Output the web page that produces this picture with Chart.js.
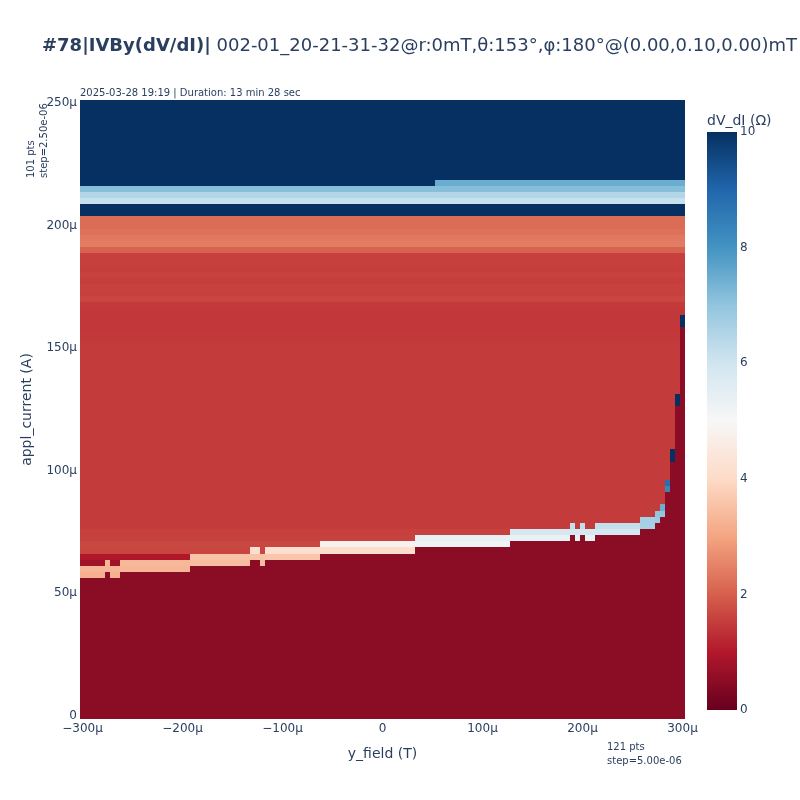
<!DOCTYPE html>
<html>
<head>
<meta charset="utf-8">
<script src="https://cdn.jsdelivr.net/npm/chart.js@4.4.1/dist/chart.umd.min.js"></script>
<style>
  html, body { margin: 0; padding: 0; background: #fff; }
  #wrap { position: relative; width: 800px; height: 800px; font-family: "DejaVu Sans", Verdana, sans-serif; color: #2a3f5f; }
  #main { position: absolute; left: 0; top: 0; }
  #cbar { position: absolute; left: 700px; top: 100px; }
  .txt { position: absolute; white-space: nowrap; }
  #title { left: 42px; top: 33px; font-size: 18px; line-height: 24px; }
  #stamp { left: 80px; top: 86px; font-size: 10px; line-height: 14px; }
  #xnote { left: 607px; top: 740px; font-size: 10px; line-height: 14px; }
  #ynote { left: 24px; top: 178px; font-size: 10px; line-height: 13px; transform-origin: 0 0; transform: rotate(-90deg); }
  #cbtitle { left: 707px; top: 110px; font-size: 14px; line-height: 20px; }
</style>
</head>
<body>
<div id="wrap">
  <canvas id="main" width="800" height="800"></canvas>
  <canvas id="cbar" width="100" height="640"></canvas>
  <div class="txt" id="title"><b>#78|IVBy(dV/dI)|</b> 002-01_20-21-31-32@r:0mT,θ:153°,φ:180°@(0.00,0.10,0.00)mT</div>
  <div class="txt" id="stamp">2025-03-28 19:19 | Duration: 13 min 28 sec</div>
  <div class="txt" id="xnote">121 pts<br>step=5.00e-06</div>
  <div class="txt" id="ynote">101 pts<br>step=2.50e-06</div>
  <div class="txt" id="cbtitle">dV_dI (Ω)</div>
</div>
<script>
// y_field (µT), one entry per heatmap column
const xValues = [
  -300, -295, -290, -285, -280, -275, -270, -265, -260, -255,
  -250, -245, -240, -235, -230, -225, -220, -215, -210, -205,
  -200, -195, -190, -185, -180, -175, -170, -165, -160, -155,
  -150, -145, -140, -135, -130, -125, -120, -115, -110, -105,
  -100, -95, -90, -85, -80, -75, -70, -65, -60, -55,
  -50, -45, -40, -35, -30, -25, -20, -15, -10, -5,
  0, 5, 10, 15, 20, 25, 30, 35, 40, 45,
  50, 55, 60, 65, 70, 75, 80, 85, 90, 95,
  100, 105, 110, 115, 120, 125, 130, 135, 140, 145,
  150, 155, 160, 165, 170, 175, 180, 185, 190, 195,
  200, 205, 210, 215, 220, 225, 230, 235, 240, 245,
  250, 255, 260, 265, 270, 275, 280, 285, 290, 295,
  300
];

// appl_current (µA), one entry per heatmap row
const yValues = [
  0, 2.5, 5, 7.5, 10, 12.5, 15, 17.5, 20, 22.5,
  25, 27.5, 30, 32.5, 35, 37.5, 40, 42.5, 45, 47.5,
  50, 52.5, 55, 57.5, 60, 62.5, 65, 67.5, 70, 72.5,
  75, 77.5, 80, 82.5, 85, 87.5, 90, 92.5, 95, 97.5,
  100, 102.5, 105, 107.5, 110, 112.5, 115, 117.5, 120, 122.5,
  125, 127.5, 130, 132.5, 135, 137.5, 140, 142.5, 145, 147.5,
  150, 152.5, 155, 157.5, 160, 162.5, 165, 167.5, 170, 172.5,
  175, 177.5, 180, 182.5, 185, 187.5, 190, 192.5, 195, 197.5,
  200, 202.5, 205, 207.5, 210, 212.5, 215, 217.5, 220, 222.5,
  225, 227.5, 230, 232.5, 235, 237.5, 240, 242.5, 245, 247.5,
  250
];

const xTicks = [-300, -200, -100, 0, 100, 200, 300];
const yTicks = [0, 50, 100, 150, 200, 250];
const cbTicks = [0, 2, 4, 6, 8, 10];

// dV/dI below the switching current (superconducting branch)
const scValue = 0.48;

// dV/dI of the normal branch, per row (rows under the switching step are hidden)
const rowBase = [
  1.5, 1.5, 1.5, 1.5, 1.5, 1.5, 1.5, 1.5, 1.5, 1.5,
  1.5, 1.5, 1.5, 1.5, 1.5, 1.5, 1.5, 1.5, 1.5, 1.5,
  1.5, 1.5, 1.5, 1.5, 1.5, 1.55, 1.55, 1.62, 1.65, 1.58,
  1.55, 1.49, 1.49, 1.49, 1.49, 1.49, 1.49, 1.49, 1.49, 1.49,
  1.49, 1.49, 1.49, 1.49, 1.49, 1.49, 1.49, 1.49, 1.49, 1.49,
  1.49, 1.49, 1.49, 1.49, 1.49, 1.49, 1.49, 1.49, 1.49, 1.49,
  1.49, 1.47, 1.46, 1.45, 1.44, 1.43, 1.44, 1.47, 1.62, 1.55,
  1.58, 1.53, 1.57, 1.52, 1.56, 1.55, 2.03, 2.4, 2.35, 2.25,
  2.17, 2.17, 12, 12, 6.17, 6.5, 7.14, 12, 12, 12,
  12, 12, 12, 12, 12, 12, 12, 12, 12, 12,
  12
];

// switching step, run by run of columns: first column, first normal row, values from that row up
const segFirstCol = [0, 5, 6, 8, 22, 34, 36, 37, 48, 67, 86, 98, 99, 100, 101, 103, 112, 115, 116, 117, 118, 119, 120];
const segSwitchRow = [23, 24, 23, 24, 25, 26, 25, 26, 27, 28, 29, 30, 29, 30, 29, 30, 31, 32, 33, 37, 42, 51, 64];
const segPeak = [
  [3.2, 3.3, 0.76, 0.97], [3.3, 3.3, 0.97], [3.2, 3.3, 0.76, 0.97], [3.3, 3.35, 0.97],
  [3.45, 3.55], [3.55, 4.15], [3.45, 3.55], [3.6, 4.15],
  [4.1, 4.8], [5.2, 5.4], [5.35, 5.9], [5.9, 6.2],
  [5.4, 5.9], [5.9, 6.2], [5.4, 5.9], [5.9, 6.2],
  [6.65, 6.7], [6.8, 7.0], [7.0, 7.5], [8.3, 8.8],
  [12, 12], [12, 12], [12, 12]
];

// single row that changes along the field axis near the top
const overrideRow = [87];
const overrideFromCol = [71];
const overrideToCol = [120];
const overrideValue = [7.5];

const rdbu = ["#67001f", "#b2182b", "#d6604d", "#f4a582", "#fddbc7", "#f7f7f7",
              "#d1e5f0", "#92c5de", "#4393c3", "#2166ac", "#053061"];
const zMin = 0;
const zMax = 10;
const fontFamily = "'DejaVu Sans', Verdana, sans-serif";
const textColor = "#2a3f5f";

const hexToRgb = (h) => [1, 3, 5].map(k => parseInt(h.substr(k, 2), 16));
const rdbuRgb = rdbu.map(hexToRgb);

const colorFor = (v) => {
    const t = Math.min(1, Math.max(0, (v - zMin) / (zMax - zMin))) * (rdbu.length - 1);
    const i = Math.min(rdbu.length - 2, Math.floor(t));
    const f = t - i;
    const a = rdbuRgb[i];
    const b = rdbuRgb[i + 1];
    const c = a.map((ch, k) => Math.round(ch + (b[k] - ch) * f));
    return `rgb(${c[0]},${c[1]},${c[2]})`;
};

const cellValue = (col, row) => {
    let seg = 0;
    while (seg + 1 < segFirstCol.length && segFirstCol[seg + 1] <= col) {
        seg++;
    }
    const s = segSwitchRow[seg];
    if (row < s) {
        return scValue;
    }
    const peak = segPeak[seg];
    if (row - s < peak.length) {
        return peak[row - s];
    }
    for (let k = 0; k < overrideRow.length; k++) {
        if (row === overrideRow[k] && col >= overrideFromCol[k] && col <= overrideToCol[k]) {
            return overrideValue[k];
        }
    }
    return rowBase[row];
};

const cells = [];
xValues.forEach((xv, col) => {
    yValues.forEach((yv, row) => {
        cells.push({ x: xv, y: yv, v: cellValue(col, row) });
    });
});

const halfX = (xValues[1] - xValues[0]) / 2;
const halfY = (yValues[1] - yValues[0]) / 2;

const fmtMicro = (v) => {
    if (v === 0) {
        return "0";
    }
    return (v < 0 ? "\u2212" + (-v) : String(v)) + "µ";
};

const heatCells = {
    id: "heatCells",
    beforeDatasetsDraw(chart) {
        const { ctx, chartArea, scales: { x, y } } = chart;
        ctx.save();
        ctx.beginPath();
        ctx.rect(chartArea.left, chartArea.top, chartArea.right - chartArea.left, chartArea.bottom - chartArea.top);
        ctx.clip();
        chart.data.datasets[0].data.forEach(p => {
            const l = Math.round(x.getPixelForValue(p.x - halfX));
            const r = Math.round(x.getPixelForValue(p.x + halfX));
            const t = Math.round(y.getPixelForValue(p.y + halfY));
            const b = Math.round(y.getPixelForValue(p.y - halfY));
            ctx.fillStyle = colorFor(p.v);
            ctx.fillRect(l, t, r - l, b - t);
        });
        ctx.restore();
    }
};

const gradientBar = {
    id: "gradientBar",
    beforeDatasetsDraw(chart) {
        const { ctx, chartArea } = chart;
        const g = ctx.createLinearGradient(0, chartArea.bottom, 0, chartArea.top);
        rdbu.forEach((c, k) => g.addColorStop(k / (rdbu.length - 1), c));
        ctx.save();
        ctx.fillStyle = g;
        ctx.fillRect(chartArea.left, chartArea.top, chartArea.right - chartArea.left, chartArea.bottom - chartArea.top);
        ctx.restore();
    }
};

const tickFont = { family: fontFamily, size: 12 };
const titleFont = { family: fontFamily, size: 14 };

new Chart(document.getElementById("main"), {
    type: "scatter",
    data: {
        datasets: [{
            data: cells,
            pointRadius: 0,
            pointHoverRadius: 0
        }]
    },
    options: {
        responsive: false,
        animation: false,
        events: [],
        layout: {
            padding: { top: 100, right: 115, left: 0, bottom: 0 }
        },
        plugins: {
            legend: { display: false },
            tooltip: { enabled: false }
        },
        scales: {
            x: {
                type: "linear",
                min: xValues[0] - halfX,
                max: xValues[xValues.length - 1] + halfX,
                grid: { display: false, drawTicks: false },
                border: { display: false },
                afterBuildTicks: (s) => { s.ticks = xTicks.map(v => ({ value: v })); },
                afterFit: (s) => { s.height = 81; },
                ticks: {
                    padding: 3,
                    color: textColor,
                    font: tickFont,
                    maxRotation: 0,
                    autoSkip: false,
                    callback: (v) => fmtMicro(v)
                },
                title: {
                    display: true,
                    text: "y_field (T)",
                    color: textColor,
                    font: titleFont,
                    padding: { top: 0, bottom: 37 }
                }
            },
            y: {
                type: "linear",
                min: yValues[0] - halfY,
                max: yValues[yValues.length - 1] + halfY,
                grid: { display: false, drawTicks: false },
                border: { display: false },
                afterBuildTicks: (s) => { s.ticks = yTicks.map(v => ({ value: v })); },
                afterFit: (s) => { s.width = 80; },
                ticks: {
                    padding: 3,
                    color: textColor,
                    font: tickFont,
                    autoSkip: false,
                    callback: (v) => fmtMicro(v)
                },
                title: {
                    display: true,
                    text: "appl_current (A)",
                    color: textColor,
                    font: titleFont,
                    padding: { top: 19, bottom: 0 }
                }
            }
        }
    },
    plugins: [heatCells]
});

new Chart(document.getElementById("cbar"), {
    type: "scatter",
    data: { datasets: [{ data: [] }] },
    options: {
        responsive: false,
        animation: false,
        events: [],
        layout: {
            padding: { left: 7, top: 32, bottom: 30, right: 0 }
        },
        plugins: {
            legend: { display: false },
            tooltip: { enabled: false }
        },
        scales: {
            x: { display: false, min: 0, max: 1 },
            y: {
                position: "right",
                min: zMin,
                max: zMax,
                grid: { display: false, drawTicks: false },
                border: { display: false },
                afterBuildTicks: (s) => { s.ticks = cbTicks.map(v => ({ value: v })); },
                afterFit: (s) => { s.width = 63; },
                ticks: {
                    padding: 3,
                    color: textColor,
                    font: tickFont
                }
            }
        }
    },
    plugins: [gradientBar]
});
</script>
</body>
</html>
